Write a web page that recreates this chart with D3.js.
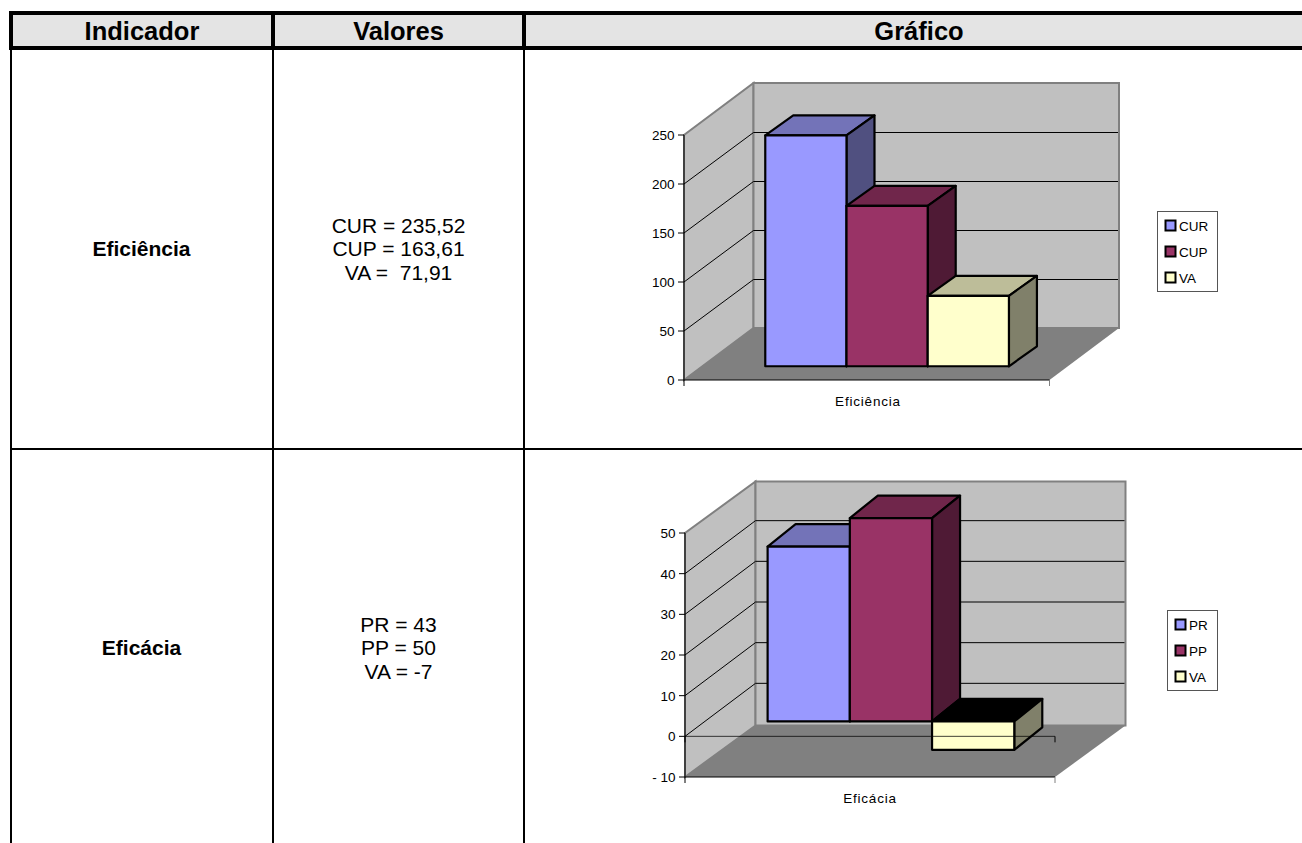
<!DOCTYPE html>
<html>
<head>
<meta charset="utf-8">
<style>
  html, body { margin: 0; padding: 0; background: #fff; overflow: hidden; }
  svg { display: block; font-family: "Liberation Sans", Arial, sans-serif; }
</style>
<script src="https://cdn.jsdelivr.net/npm/d3@7/dist/d3.min.js"></script>
</head>
<body>
<svg id="page" width="1302" height="843"></svg>
<script>
// Table content
const headers = ["Indicador", "Valores", "Gráfico"];
const indicators = ["Eficiência", "Eficácia"];
const valueLines = [
  ["CUR = 235,52", "CUP = 163,61", "VA =  71,91"],
  ["PR = 43", "PP = 50", "VA = -7"]
];

// Chart series
const efficiencySeries = ["CUR", "CUP", "VA"];
const efficiencyValues = [235.52, 163.61, 71.91];
const efficiencyTicks = [0, 50, 100, 150, 200, 250];

const efficacySeries = ["PR", "PP", "VA"];
const efficacyValues = [43, 50, -7];
const efficacyTicks = [-10, 0, 10, 20, 30, 40, 50];

const seriesFill = ["#9999ff", "#993366", "#ffffcc"];
const seriesTop = ["#7373b8", "#70264b", "#bdbd99"];
const seriesSide = ["#505080", "#4f1a35", "#80806a"];

const svg = d3.select("#page");

// Table rules and header band
const colX = [11, 273, 524, 1302];
const table = svg.append("g");
table.append("rect").attr("x", 11).attr("y", 13).attr("width", 1291).attr("height", 35).attr("fill", "#e4e4e4");
const rule = (x1, y1, x2, y2, w) => table.append("line")
  .attr("x1", x1).attr("y1", y1).attr("x2", x2).attr("y2", y2)
  .attr("stroke", "#000").attr("stroke-width", w);
rule(9, 13, 1302, 13, 4);
rule(9, 48, 1302, 48, 4);
colX.slice(0, 3).forEach(x => {
  rule(x, 11, x, 50, 4);
  rule(x, 50, x, 843, 2);
});
rule(11, 449, 1302, 449, 2);

const header = table.append("g").attr("font-weight", "bold").attr("font-size", 25.5).attr("text-anchor", "middle").attr("fill", "#000");
headers.forEach((h, i) => {
  header.append("text").attr("x", (colX[i] + colX[i + 1]) / 2 + (i === 2 ? 6 : 0)).attr("y", 40).text(h);
});

// Row labels and stated values
const rowBaseline = [256, 655];
indicators.forEach((name, i) => {
  table.append("text").attr("x", 141.5).attr("y", rowBaseline[i]).attr("text-anchor", "middle")
    .attr("font-weight", "bold").attr("font-size", 21).text(name);
  valueLines[i].forEach((line, j) => {
    table.append("text").attr("x", 398.5).attr("y", rowBaseline[i] + (j - 1) * 23.5).attr("text-anchor", "middle")
      .attr("font-size", 21).style("white-space", "pre").text(line);
  });
});

// Draws one pseudo-3D clustered column chart from its scales
function chart3d(cfg) {
  const g = svg.append("g");
  const { left, right, domain, yTop, yBottom, depthX, depthY, gridDepth, barZ0, barDX, barDY, barShift } = cfg;
  const y = d3.scaleLinear().domain(domain).range([yBottom, yTop]);
  const x = d3.scaleBand().domain(cfg.series).range([left + barShift, right + barShift]).paddingInner(0).paddingOuter(0.75);
  // z runs from the front plane (0) to the back wall (1)
  const px = (xv, z) => xv + z * depthX;
  const py = (v, z) => y(v) - z * depthY;
  const poly = pts => "M" + pts.map(p => p.join(",")).join("L") + "Z";

  const floorV = domain[0], topV = domain[1];
  // Side wall
  g.append("path").attr("fill", "#c0c0c0").attr("stroke", "#808080").attr("stroke-width", 2)
    .attr("d", poly([[px(left,0),py(floorV,0)],[px(left,1),py(floorV,1)],[px(left,1),py(topV,1)],[px(left,0),py(topV,0)]]));
  // Back wall
  g.append("path").attr("fill", "#c0c0c0").attr("stroke", "#808080").attr("stroke-width", 2)
    .attr("d", poly([[px(left,1),py(floorV,1)],[px(right,1),py(floorV,1)],[px(right,1),py(topV,1)],[px(left,1),py(topV,1)]]));
  // Floor
  g.append("path").attr("fill", "#808080")
    .attr("d", poly([[px(left,0),py(floorV,0)],[px(right,0),py(floorV,0)],[px(right,1),py(floorV,1)],[px(left,1),py(floorV,1)]]));

  // Gridlines on side wall and back wall
  cfg.ticks.filter(t => t !== floorV && t !== topV).forEach(t => {
    g.append("path").attr("fill", "none").attr("stroke", "#000").attr("stroke-width", 1)
      .attr("d", `M${px(left,0)},${y(t)}L${px(left,1)},${y(t) - gridDepth}L${px(right,1) - 1},${y(t) - gridDepth}`);
  });

  // Columns: each one overlaps the neighbour to its right only at the shared edge
  const base = cfg.baseValue;
  const zx = barZ0 * depthX, zy = barZ0 * depthY;
  cfg.values.forEach((v, i) => {
    const s = cfg.series[i];
    const x0 = x(s) + zx, x1 = x0 + x.bandwidth();
    const hi = y(Math.max(v, base)) - zy, lo = y(Math.min(v, base)) - zy;
    const bar = g.append("g").attr("stroke", "#000").attr("stroke-width", 2.2).attr("stroke-linejoin", "round");
    bar.append("path").attr("fill", cfg.topFill ? cfg.topFill(v, i) : seriesTop[i])
      .attr("d", poly([[x0,hi],[x1,hi],[x1 + barDX,hi - barDY],[x0 + barDX,hi - barDY]]));
    bar.append("path").attr("fill", seriesSide[i])
      .attr("d", poly([[x1,hi],[x1 + barDX,hi - barDY],[x1 + barDX,lo - barDY],[x1,lo]]));
    bar.append("path").attr("fill", seriesFill[i])
      .attr("d", poly([[x0,hi],[x1,hi],[x1,lo],[x0,lo]]));
  });

  // Value axis with outward ticks, category baseline along the front edge
  const axis = g.append("g").attr("stroke", "#000").attr("stroke-width", 1).attr("fill", "none");
  axis.append("line").attr("x1", left).attr("x2", left).attr("y1", y(topV)).attr("y2", y(floorV) + 6);
  cfg.ticks.forEach(t => axis.append("line").attr("x1", left - 6).attr("x2", left).attr("y1", y(t)).attr("y2", y(t)));
  axis.append("line").attr("x1", left).attr("x2", right).attr("y1", y(floorV)).attr("y2", y(floorV));
  axis.append("line").attr("x1", right).attr("x2", right).attr("y1", y(floorV)).attr("y2", y(floorV) + 6).attr("stroke", "#808080");
  // A range that crosses zero also gets an axis at the zero level, drawn across the columns
  if (domain[0] < 0) {
    axis.append("line").attr("x1", left).attr("x2", right).attr("y1", y(0)).attr("y2", y(0)).attr("opacity", 0.75);
    axis.append("line").attr("x1", right).attr("x2", right).attr("y1", y(0)).attr("y2", y(0) + 6);
    axis.append("line").attr("x1", left).attr("x2", left).attr("y1", y(0)).attr("y2", y(0) + 6);
  }

  const labels = g.append("g").attr("font-size", 13.5).attr("fill", "#000");
  cfg.ticks.forEach(t => labels.append("text").attr("x", left - 9.5).attr("y", y(t) + 5).attr("text-anchor", "end")
    .text(t < 0 ? "- " + Math.abs(t) : t));
  labels.append("text").attr("x", cfg.categoryX).attr("y", cfg.categoryY).attr("text-anchor", "middle")
    .attr("letter-spacing", 0.8).text(cfg.category);

  // Legend
  const lg = cfg.legend;
  g.append("rect").attr("x", lg.x + 0.5).attr("y", lg.y + 0.5).attr("width", lg.w).attr("height", 80)
    .attr("fill", "#fff").attr("stroke", "#555");
  cfg.series.forEach((s, i) => {
    const yy = lg.y + 9.5 + i * 26;
    g.append("rect").attr("x", lg.x + 8.5).attr("y", yy).attr("width", 10).attr("height", 10)
      .attr("fill", seriesFill[i]).attr("stroke", "#000").attr("stroke-width", 2);
    g.append("text").attr("x", lg.x + 22).attr("y", yy + 10.5).attr("font-size", 13.5).text(s);
  });
}

chart3d({
  series: efficiencySeries, values: efficiencyValues, ticks: efficiencyTicks, category: indicators[0],
  left: 684, right: 1049.5, domain: [0, 250], yBottom: 380, yTop: 135,
  depthX: 69.5, depthY: 52, gridDepth: 51.5, barZ0: 0.264, barDX: 28, barDY: 20, barShift: 2,
  baseValue: 0, categoryX: 868, categoryY: 406,
  legend: { x: 1157, y: 211, w: 60 }
});

chart3d({
  series: efficacySeries, values: efficacyValues, ticks: efficacyTicks, category: indicators[1],
  left: 685, right: 1055, domain: [-10, 50], yBottom: 777, yTop: 533,
  depthX: 70.5, depthY: 51.5, gridDepth: 53, barZ0: 0.29, barDX: 28, barDY: 22.5, barShift: 0.5,
  baseValue: 0, categoryX: 870, categoryY: 803,
  legend: { x: 1167, y: 610, w: 50 },
  topFill: (v, i) => v < 0 ? "#000" : seriesTop[i]
});
</script>
</body>
</html>
